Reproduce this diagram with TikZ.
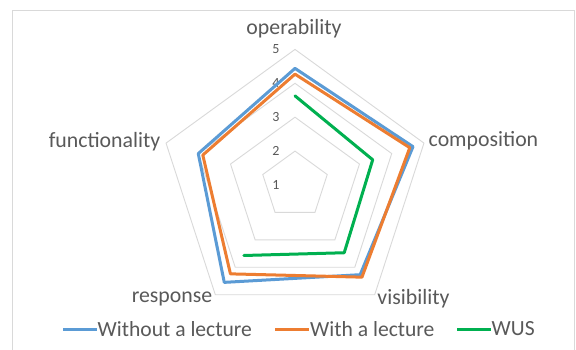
\documentclass[tikz,border=0pt]{standalone}
\usepackage{fontspec}
\setmainfont{Carlito}
\usetikzlibrary{calc}
\definecolor{txtgray}{HTML}{595959}
\definecolor{gridgray}{HTML}{D9D9D9}
\definecolor{sblue}{HTML}{5B9BD5}
\definecolor{sorange}{HTML}{ED7D31}
\definecolor{sgreen}{HTML}{00B050}
\tikzset{
  gridline/.style={draw=gridgray, line width=0.9pt, line join=miter},
  series/.style={line width=3pt, line join=round, line cap=round},
  axislabel/.style={text=txtgray, font=\fontsize{21.8}{24}\selectfont, inner sep=0pt},
  ticklabel/.style={text=txtgray, font=\fontsize{14}{15}\selectfont, inner sep=0pt},
  legendtext/.style={text=txtgray, font=\fontsize{21.6}{24}\selectfont, inner sep=0pt, anchor=west},
}
\begin{document}
\begin{tikzpicture}[x=1pt,y=-1pt]
\useasboundingbox (0,0) rectangle (576,349);
\fill[white] (0,0) rectangle (576,349);
% chart border
\draw[gridgray, line width=0.9pt] (12.5,400) -- (12.5,10.5) -- (574.5,10.5) -- (574.5,400);
\coordinate (C) at (295,185);
% grid pentagons (levels 2..5; level 1 is the centre)
\foreach \lv in {2,3,4,5} {
  \draw[gridline] ($(C)+(90:{(\lv-1)*33.9pt})$)
    -- ($(C)+(18:{(\lv-1)*33.9pt})$)
    -- ($(C)+(-54:{(\lv-1)*33.9pt})$)
    -- ($(C)+(-126:{(\lv-1)*33.9pt})$)
    -- ($(C)+(162:{(\lv-1)*33.9pt})$) -- cycle;
}
% tick labels
\foreach \lv in {1,2,3,4,5} {
  \node[ticklabel] (t\lv) at ($(C)+(90:{(\lv-1)*33.9pt})+(-19pt,0)$) {\lv};
}
% series points
\foreach \name/\a/\b/\c/\d/\e in {B/4.44/4.66/4.27/4.55/4.00, O/4.27/4.56/4.36/4.24/3.86, G/3.63/3.41/3.47/3.57/1} {
  \coordinate (\name1) at ($(C)+(90:{(\a-1)*33.9pt})$);
  \coordinate (\name2) at ($(C)+(18:{(\b-1)*33.9pt})$);
  \coordinate (\name3) at ($(C)+(-54:{(\c-1)*33.9pt})$);
  \coordinate (\name4) at ($(C)+(-126:{(\d-1)*33.9pt})$);
  \coordinate (\name5) at ($(C)+(162:{(\e-1)*33.9pt})$);
}
\draw[series, sblue] (B1) -- (B2) -- (B3) -- (B4) -- (B5) -- cycle;
\draw[series, sorange] (O1) -- (O2) -- (O3) -- (O4) -- (O5) -- cycle;
\draw[series, sgreen] (G1) -- (G2) -- (G3) -- (G4);
% axis labels
\node[axislabel] (lop) at (294,29) {operability};
\node[axislabel, anchor=west] (lco) at (428.5,141) {composition};
\node[axislabel, anchor=east] (lfu) at (160.5,141.5) {functionality};
\node[axislabel] (lre) at (172,299) {response};
\node[axislabel] (lvi) at (413.5,298.5) {visibility};
% legend
\coordinate (l1a) at (63,329.5); \coordinate (l1b) at (97,329.5);
\coordinate (l2a) at (275,329.5); \coordinate (l2b) at (308.5,329.5);
\coordinate (l3a) at (457,329.5); \coordinate (l3b) at (491,329.5);
\draw[series, sblue, line cap=butt] (l1a) -- (l1b);
\draw[series, sorange, line cap=butt] (l2a) -- (l2b);
\draw[series, sgreen, line cap=butt] (l3a) -- (l3b);
\node[legendtext] (lg1) at (97.5,329) {Without a lecture};
\node[legendtext] (lg2) at (310,329) {With a lecture};
\node[legendtext] (lg3) at (491.5,329) {WUS};
\end{tikzpicture}
\end{document}
